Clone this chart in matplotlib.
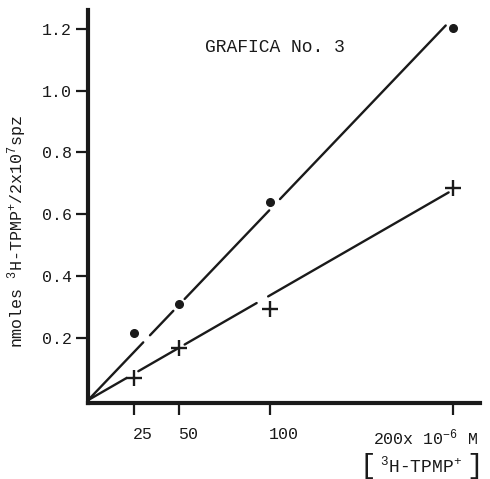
import matplotlib
matplotlib.use("Agg")
import matplotlib.pyplot as plt
import matplotlib.transforms as mtransforms

# ---- data ----
conc = [25, 50, 100, 200]                      # x 10^-6 M
circle_vals = [0.216, 0.311, 0.639, 1.203]     # filled dots series
plus_vals = [0.073, 0.168, 0.296, 0.684]       # plus series

# fitted straight lines (through origin) drawn by hand, with gaps
circle_fit_end = (196.2, 1.21)
plus_fit_end = (197.8, 0.671)
circle_segments = [(0, 30.3), (34.0, 46.8), (53.0, 99.4), (105.3, 196.2)]
plus_segments = [(0, 21.2), (27.6, 49.5), (53.0, 92.5), (98.8, 197.8)]

y_ticks = [0.2, 0.4, 0.6, 0.8, 1.0, 1.2]
y_ticklabels = ["0.2", "0.4", "0.6", "0.8", "1.0", "1.2"]
x_ticks = [25, 50, 100, 200]
x_ticklabels = ["25", "50", "100", r"200x 10$^{-6}$ M"]

title = "GRAFICA No. 3"
ylabel = r"nmoles $^{3}$H-TPMP$^{+}$/2x10$^{7}$spz"
xlabel_inner = r"$^{3}$H-TPMP$^{+}$"

# ---- style ----
plt.rcParams['font.family'] = ['Liberation Mono', 'DejaVu Sans']
plt.rcParams['mathtext.fontset'] = 'custom'
plt.rcParams['mathtext.rm'] = 'Liberation Mono'
plt.rcParams['mathtext.it'] = 'Liberation Mono'
plt.rcParams['mathtext.default'] = 'rm'

ink = '#1a1a1a'
W, H = 490, 479
fig = plt.figure(figsize=(W / 100, H / 100), dpi=100)
ax = fig.add_axes([88 / W, 1 - 403 / H, (480 - 88) / W, (403 - 10) / H])
ax.set_xlim(0, 215)
ax.set_ylim(-0.009, 1.26)

for s in ['top', 'right']:
    ax.spines[s].set_visible(False)
for s in ['left', 'bottom']:
    ax.spines[s].set_linewidth(3.0)
    ax.spines[s].set_color(ink)

# lines with gaps
def draw_fit(end, segments):
    slope = end[1] / end[0]
    for a, b in segments:
        ax.plot([a, b], [slope * a, slope * b], color=ink, lw=1.7,
                solid_capstyle='round')

draw_fit(circle_fit_end, circle_segments)
draw_fit(plus_fit_end, plus_segments)

ax.plot(conc, circle_vals, 'o', color=ink, markersize=5.5, linestyle='none')
ax.plot(conc, plus_vals, '+', color=ink, markersize=11, markeredgewidth=1.7,
        linestyle='none')

# y ticks
ax.set_yticks(y_ticks)
ax.set_yticklabels(y_ticklabels, fontsize=12, color=ink)
ax.tick_params(axis='y', direction='out', length=8.5, width=1.6, pad=3,
               color=ink)

# x ticks (labels placed manually, left aligned as typed)
ax.set_xticks(x_ticks)
ax.set_xticklabels([])
ax.tick_params(axis='x', direction='out', length=8.5, width=1.6, color=ink)
xt = ax.get_xaxis_transform()
for i, (xv, lab) in enumerate(zip(x_ticks, x_ticklabels)):
    dx = -1 if i < len(x_ticks) - 1 else -80
    tr = mtransforms.offset_copy(xt, fig=fig, x=dx, y=-24, units='dots')
    ax.text(xv, 0, lab, transform=tr, ha='left', va='top', fontsize=12,
            color=ink)

# title
fig.text(275 / W, 1 - 47 / H, title, ha='center', va='center', fontsize=13,
         color=ink)
# y label
fig.text(17 / W, 1 - 231 / H, ylabel, rotation=90, ha='center', va='center',
         fontsize=12, color=ink)
# x label with tall brackets
fig.text(368 / W, 1 - 466 / H, "[", ha='center', va='center', fontsize=20,
         color=ink)
fig.text(421 / W, 1 - 466 / H, xlabel_inner, ha='center', va='center',
         fontsize=13, color=ink)
fig.text(475 / W, 1 - 466 / H, "]", ha='center', va='center', fontsize=20,
         color=ink)

fig.savefig('out.png', dpi=100, facecolor='white')
